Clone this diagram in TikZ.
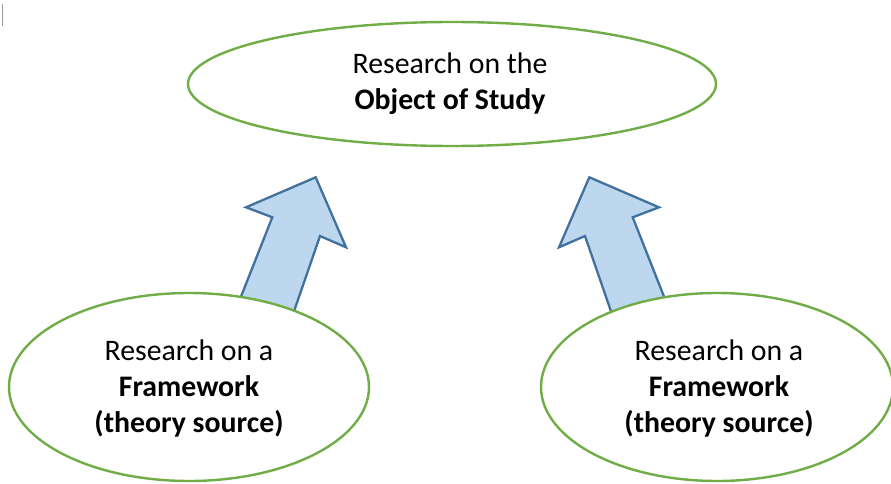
\documentclass[tikz,border=0pt]{standalone}
\usepackage{fontspec}
\setmainfont{Carlito}
\usetikzlibrary{shapes.geometric}
\definecolor{ovalgreen}{HTML}{70AD47}
\definecolor{arrowfill}{HTML}{BDD7EE}
\definecolor{arrowline}{HTML}{41719C}
\begin{document}
\begin{tikzpicture}[x=1pt,y=-1pt,
  oval/.style={ellipse, draw=ovalgreen, line width=2.4pt, fill=white, inner sep=0pt},
  blockarrow/.style={draw=arrowline, fill=arrowfill, line width=2.3pt, line join=miter},
  lbl/.style={align=center, font=\fontsize{29.8}{36}\selectfont, inner sep=0pt},
  cursor/.style={draw=gray!80, line width=1.2pt}]
\useasboundingbox (0,0) rectangle (891,484);
\fill[white] (0,0) rectangle (891,484);
\draw[cursor] (2.8,4) -- (2.8,26);
% block arrows (drawn first, ovals cover their bases)
\draw[blockarrow] (315.7,177.3) -- (346,247.3) -- (320,236) -- (291.7,318) -- (237,306.7)
  -- (272.3,217.3) -- (246,207.3) -- cycle;
\draw[blockarrow] (589.3,177.3) -- (559,247.3) -- (585,236) -- (613.3,318) -- (668,306.7)
  -- (632.7,217.3) -- (659,207.3) -- cycle;
% ovals
\node[oval, minimum width=528pt, minimum height=124pt] (top) at (452,84) {};
\node[oval, minimum width=360pt, minimum height=188pt] (left) at (189,387) {};
\node[oval, minimum width=352pt, minimum height=188pt] (right) at (717,387) {};
\node[lbl, anchor=base] (toptxt) at (450,110) {Research on the\\\textbf{Object of Study}};
\node[lbl, anchor=base] (lefttxt) at (189,432) {Research on a\\\textbf{Framework}\\\textbf{(theory source)}};
\node[lbl, anchor=base] (righttxt) at (719,432) {Research on a\\\textbf{Framework}\\\textbf{(theory source)}};
\end{tikzpicture}
\end{document}
